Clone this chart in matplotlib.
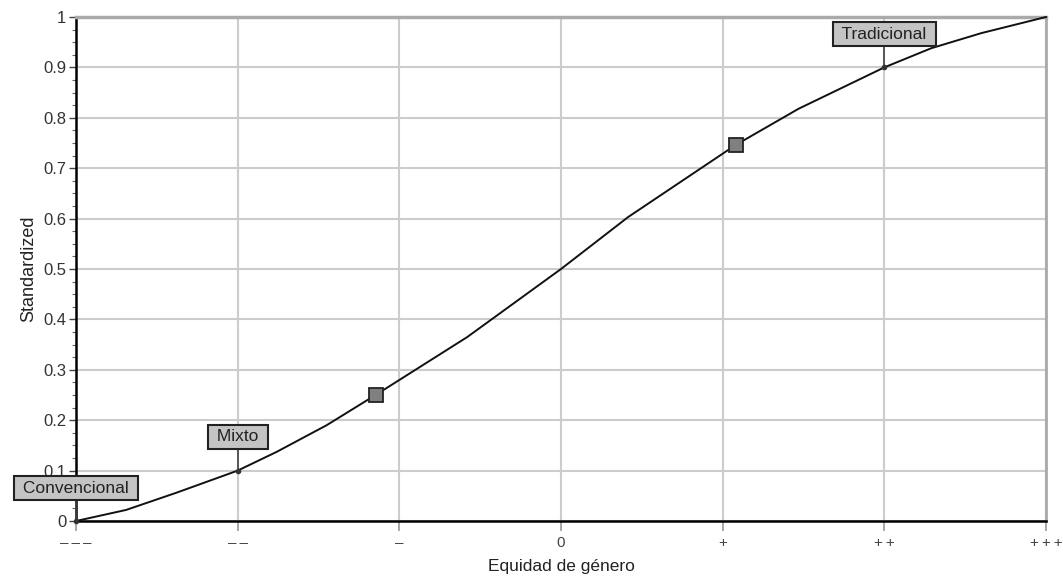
import matplotlib
matplotlib.use("Agg")
import matplotlib.pyplot as plt
import numpy as np
from matplotlib.ticker import MultipleLocator

plt.rcParams['font.family'] = ['Liberation Sans', 'DejaVu Sans']

# Curve values
curve_x = [-3, -2.69, -2.38, -2, -1.76, -1.45, -1.147, -0.58, 0, 0.415, 1.08, 1.47, 2, 2.29, 2.6, 3]
curve_y = [0.0, 0.022, 0.056, 0.10, 0.137, 0.19, 0.25, 0.365, 0.50, 0.603, 0.746, 0.818, 0.90, 0.938, 0.968, 1.0]

square_x = [-1.147, 1.08]
square_y = [0.25, 0.746]

label_names = ["Convencional", "Mixto", "Tradicional"]
label_x = [-3, -2, 2]
label_y = [0.0, 0.10, 0.90]
label_box_y = [0.065, 0.167, 0.966]

x_ticks = [-3, -2, -1, 0, 1, 2, 3]
x_tick_labels = ["\u2013\u2009\u2013\u2009\u2013", "\u2013\u2009\u2013", "\u2013", "0", "+", "+\u2009+", "+\u2009+\u2009+"]
y_ticks = [0, 0.1, 0.2, 0.3, 0.4, 0.5, 0.6, 0.7, 0.8, 0.9, 1]
y_tick_labels = ["0", "0.1", "0.2", "0.3", "0.4", "0.5", "0.6", "0.7", "0.8", "0.9", "1"]

fig = plt.figure(figsize=(10.63, 5.8), dpi=100)
ax = fig.add_axes([0.0715, 0.1017, 0.9125, 0.869])

ax.set_xlim(-3, 3)
ax.set_ylim(0, 1)
ax.set_xticks(x_ticks)
ax.set_xticklabels(x_tick_labels, fontsize=11, color="#444444")
ax.set_yticks(y_ticks)
ax.set_yticklabels(y_tick_labels, fontsize=12, color="#333333")
ax.yaxis.set_minor_locator(MultipleLocator(0.025))
ax.tick_params(axis='y', which='major', length=5, width=1, color="#444444", pad=2)
ax.tick_params(axis='y', which='minor', length=3, width=0.8, color="#666666")
ax.tick_params(axis='x', which='major', length=7, width=1.2, color="#999999", pad=4)

ax.grid(True, which='major', color="#cccccc", linewidth=1.5)
ax.set_axisbelow(True)
ax.spines['top'].set_color("#aaaaaa")
ax.spines['top'].set_linewidth(2.5)
ax.spines['right'].set_color("#aaaaaa")
ax.spines['right'].set_linewidth(2.0)
for s in ['left', 'bottom']:
    ax.spines[s].set_color("black")
    ax.spines[s].set_linewidth(1.8)

ax.plot(curve_x, curve_y, color="#111111", linewidth=1.4, zorder=3, clip_on=False)
ax.plot(square_x, square_y, linestyle='none', marker='s', markersize=10,
        markerfacecolor="#808080", markeredgecolor="#222222", markeredgewidth=1.3, zorder=4)

for name, lx, ly, by in zip(label_names, label_x, label_y, label_box_y):
    ax.plot([lx, lx], [ly, by], color="#444444", linewidth=1.2, zorder=3, clip_on=False)
    ax.plot([lx], [ly], marker='o', markersize=3, color="#333333", zorder=4, clip_on=False)
    ax.text(lx, by, " " + name + " ", ha='center', va='center', fontsize=12.5, color="#222222", zorder=5,
            bbox=dict(boxstyle='square,pad=0.25', facecolor="#c4c4c4", edgecolor="#222222", linewidth=1.5),
            clip_on=False)

ax.set_xlabel("Equidad de género", fontsize=12.5, color="#222222", labelpad=6)
ax.set_ylabel("Standardized", fontsize=13, color="#222222", labelpad=4)

fig.savefig("out.png", dpi=100)
